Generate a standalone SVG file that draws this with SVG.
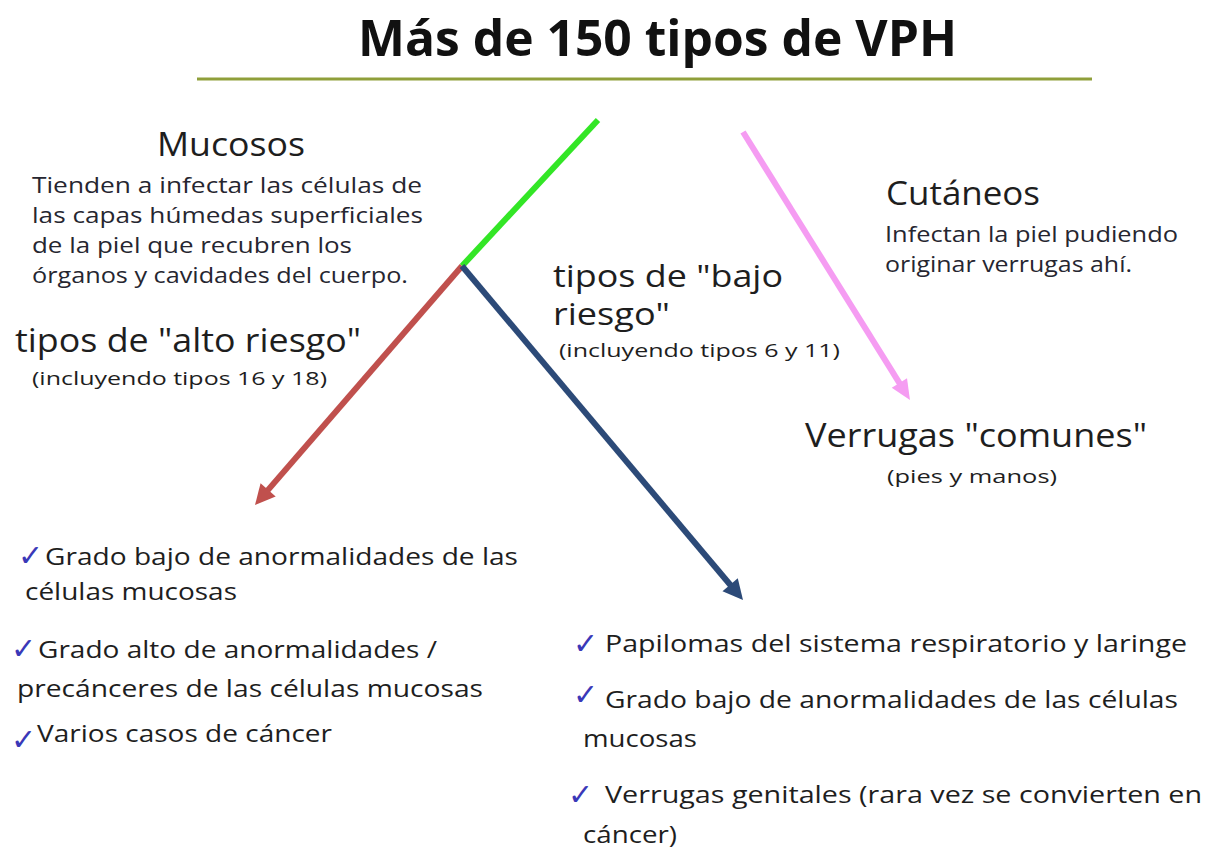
<svg xmlns="http://www.w3.org/2000/svg" width="1205" height="848" viewBox="0 0 1205 848">
<style>
.t{font-family:"Open Sans","Liberation Sans",sans-serif;fill:#1e1e1e}
.title{font-weight:bold;font-size:50px;fill:#111}
.h{font-size:32px}
.h2{font-size:31px}
.p{font-size:21px;fill:#262630}
.s{font-size:19px}
.li{font-size:24px}
.ck{font-family:"DejaVu Sans",sans-serif;font-size:30px;fill:#3a38b8}
.ln{fill:none;stroke-width:6}
</style>
<defs>
<marker id="aR" markerUnits="userSpaceOnUse" markerWidth="24" markerHeight="24" refX="4" refY="0" viewBox="0 -12 22 24" orient="auto" overflow="visible"><path d="M0,-10 L20,0 L0,10 z" fill="#c0504d"/></marker>
<marker id="aB" markerUnits="userSpaceOnUse" markerWidth="24" markerHeight="24" refX="4" refY="0" viewBox="0 -12 22 24" orient="auto" overflow="visible"><path d="M0,-10 L20,0 L0,10 z" fill="#2c4a78"/></marker>
<marker id="aP" markerUnits="userSpaceOnUse" markerWidth="24" markerHeight="24" refX="4" refY="0" viewBox="0 -12 22 24" orient="auto" overflow="visible"><path d="M0,-9 L20,0 L0,9 z" fill="#f59cf2"/></marker>
</defs>
<rect width="1205" height="848" fill="#fff"/>
<g id="title">
<text class="t title" x="358" y="56" textLength="599" lengthAdjust="spacingAndGlyphs">Más de 150 tipos de VPH</text>
<line x1="197" y1="79" x2="1092" y2="79" stroke="#8f9f3a" stroke-width="3"/>
</g>
<g id="connectors">
<line class="ln" x1="598" y1="120" x2="462" y2="266" stroke="#33e626" stroke-width="5"/>
<line class="ln" x1="462" y1="266" x2="265.5" y2="492.9" stroke="#c0504d" marker-end="url(#aR)"/>
<line class="ln" x1="462" y1="266" x2="732.7" y2="587.8" stroke="#2c4a78" marker-end="url(#aB)"/>
<line class="ln" x1="743" y1="132" x2="901.5" y2="386.4" stroke="#f59cf2" marker-end="url(#aP)"/>
</g>
<g id="mucosos">
<text class="t h" x="157" y="156" textLength="148" lengthAdjust="spacingAndGlyphs">Mucosos</text>
<text class="t p" x="32" y="193" textLength="390" lengthAdjust="spacingAndGlyphs">Tienden a infectar las células de</text>
<text class="t p" x="32" y="223" textLength="391" lengthAdjust="spacingAndGlyphs">las capas húmedas superficiales</text>
<text class="t p" x="32" y="253" textLength="320" lengthAdjust="spacingAndGlyphs">de la piel que recubren los</text>
<text class="t p" x="32" y="283" textLength="376" lengthAdjust="spacingAndGlyphs">órganos y cavidades del cuerpo.</text>
</g>
<g id="alto-riesgo">
<text class="t h" x="15" y="352" textLength="346" lengthAdjust="spacingAndGlyphs">tipos de "alto riesgo"</text>
<text class="t s" x="32" y="385" textLength="295" lengthAdjust="spacingAndGlyphs">(incluyendo tipos 16 y 18)</text>
</g>
<g id="bajo-riesgo">
<text class="t h2" x="553" y="287" textLength="230" lengthAdjust="spacingAndGlyphs">tipos de "bajo</text>
<text class="t h2" x="553" y="325" textLength="117" lengthAdjust="spacingAndGlyphs">riesgo"</text>
<text class="t s" x="559" y="357" textLength="281" lengthAdjust="spacingAndGlyphs">(incluyendo tipos 6 y 11)</text>
</g>
<g id="cutaneos">
<text class="t h" x="886" y="205" textLength="154" lengthAdjust="spacingAndGlyphs">Cutáneos</text>
<text class="t p" x="885" y="242" textLength="293" lengthAdjust="spacingAndGlyphs">Infectan la piel pudiendo</text>
<text class="t p" x="885" y="272" textLength="247" lengthAdjust="spacingAndGlyphs">originar verrugas ahí.</text>
</g>
<g id="verrugas-comunes">
<text class="t h" x="805" y="447" textLength="342" lengthAdjust="spacingAndGlyphs">Verrugas "comunes"</text>
<text class="t s" x="887" y="483" textLength="170" lengthAdjust="spacingAndGlyphs">(pies y manos)</text>
</g>
<g id="lista-alto">
<text class="ck" x="18" y="566">✓</text>
<text class="t li" x="45" y="565" textLength="473" lengthAdjust="spacingAndGlyphs">Grado bajo de anormalidades de las</text>
<text class="t li" x="25" y="600" textLength="212" lengthAdjust="spacingAndGlyphs">células mucosas</text>
<text class="ck" x="11" y="659">✓</text>
<text class="t li" x="38" y="658" textLength="399" lengthAdjust="spacingAndGlyphs">Grado alto de anormalidades /</text>
<text class="t li" x="17" y="697" textLength="466" lengthAdjust="spacingAndGlyphs">precánceres de las células mucosas</text>
<text class="ck" x="11" y="750">✓</text>
<text class="t li" x="37" y="742" textLength="295" lengthAdjust="spacingAndGlyphs">Varios casos de cáncer</text>
</g>
<g id="lista-bajo">
<text class="ck" x="573" y="654">✓</text>
<text class="t li" x="605" y="652" textLength="582" lengthAdjust="spacingAndGlyphs">Papilomas del sistema respiratorio y laringe</text>
<text class="ck" x="573" y="705">✓</text>
<text class="t li" x="605" y="708" textLength="573" lengthAdjust="spacingAndGlyphs">Grado bajo de anormalidades de las células</text>
<text class="t li" x="583" y="747" textLength="114" lengthAdjust="spacingAndGlyphs">mucosas</text>
<text class="ck" x="568" y="805">✓</text>
<text class="t li" x="605" y="803" textLength="597" lengthAdjust="spacingAndGlyphs">Verrugas genitales (rara vez se convierten en</text>
<text class="t li" x="583" y="843" textLength="94" lengthAdjust="spacingAndGlyphs">cáncer)</text>
</g>
</svg>
